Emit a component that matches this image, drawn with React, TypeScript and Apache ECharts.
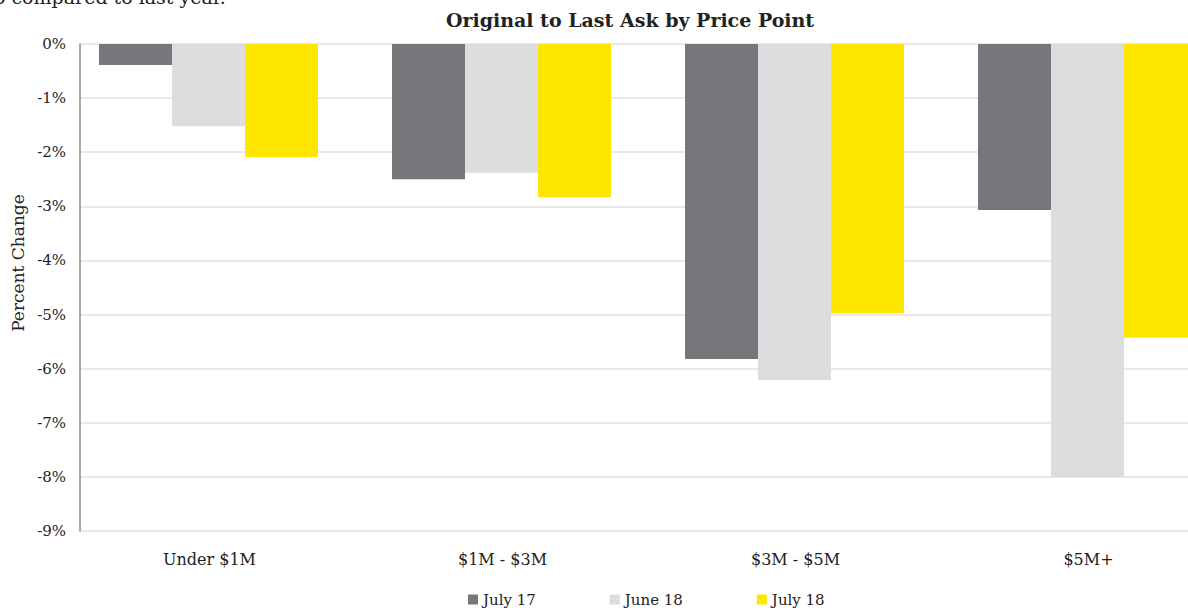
import React, { useEffect, useRef } from "react";
import * as echarts from "echarts";

const categories = ["Under $1M", "$1M - $3M", "$3M - $5M", "$5M+"];
const july17 = [-0.39, -2.5, -5.82, -3.07];
const june18 = [-1.52, -2.38, -6.21, -8.0];
const july18 = [-2.09, -2.83, -4.97, -5.43];
const spacer = [0, 0, 0, 0];
const yTicks = [0, -1, -2, -3, -4, -5, -6, -7, -8, -9];

const FONT = "'DejaVu Serif', Georgia, serif";

export default function App() {
  const ref = useRef<HTMLDivElement>(null);
  useEffect(() => {
    if (!ref.current) return;
    const chart = echarts.init(ref.current, undefined, { renderer: "svg" });
    chart.setOption({
      animation: false,
      backgroundColor: "#ffffff",
      textStyle: { fontFamily: FONT },
      title: {
        text: "Original to Last Ask by Price Point",
        left: 625,
        textAlign: "center",
        top: 5,
        textStyle: { fontFamily: FONT, fontSize: 19, fontWeight: "bold", color: "#222" },
      },
      graphic: [
        {
          type: "text",
          left: -6,
          top: -13,
          style: { text: "o compared to last year.", font: `19px ${FONT}`, fill: "#222" },
        },
        {
          type: "text",
          x: 18,
          y: 263,
          rotation: Math.PI / 2,
          style: {
            text: "Percent Change",
            font: `17px ${FONT}`,
            fill: "#222",
            align: "center",
            verticalAlign: "middle",
          },
        },
      ],
      legend: {
        data: ["July 17", "June 18", "July 18"],
        bottom: 1,
        left: 463,
        itemWidth: 10,
        itemHeight: 10,
        itemGap: 74,
        icon: "rect",
        textStyle: { fontFamily: FONT, fontSize: 15, color: "#222" },
      },
      grid: { left: 80, top: 44, width: 1172, bottom: 82 },
      xAxis: {
        type: "category",
        data: categories,
        axisLine: { show: false, onZero: false },
        axisTick: { show: false },
        axisLabel: { fontFamily: FONT, fontSize: 16, color: "#222", margin: 20, padding: [0, 34, 0, 0] },
        position: "bottom",
      },
      yAxis: {
        type: "value",
        min: -9,
        max: 0,
        interval: 1,
        axisLine: { show: true, lineStyle: { color: "#8a8a8a", width: 1.5 } },
        axisTick: { show: false },
        splitLine: { lineStyle: { color: "#e2e2e2", width: 1.5 } },
        axisLabel: {
          fontFamily: FONT,
          fontSize: 15,
          color: "#222",
          margin: 14,
          formatter: (v: number) => (yTicks.includes(v) ? `${v}%` : ""),
        },
      },
      series: [
        { name: "July 17", type: "bar", data: july17, barWidth: 73, barGap: "0%", itemStyle: { color: "#77777b" } },
        { name: "June 18", type: "bar", data: june18, barWidth: 73, barGap: "0%", itemStyle: { color: "#dcdddf" } },
        { name: "July 18", type: "bar", data: july18, barWidth: 73, barGap: "0%", itemStyle: { color: "#ffe600" } },
        { name: "spacer", type: "bar", data: spacer, barWidth: 36, barGap: "0%", silent: true, itemStyle: { color: "rgba(0,0,0,0)" } },
      ],
    });
    return () => chart.dispose();
  }, []);
  return (
    <div style={{ width: 1188, height: 613, position: "absolute", left: 0, top: 0, overflow: "hidden" }}>
      <div ref={ref} style={{ width: 1260, height: 613 }} />
    </div>
  );
}
